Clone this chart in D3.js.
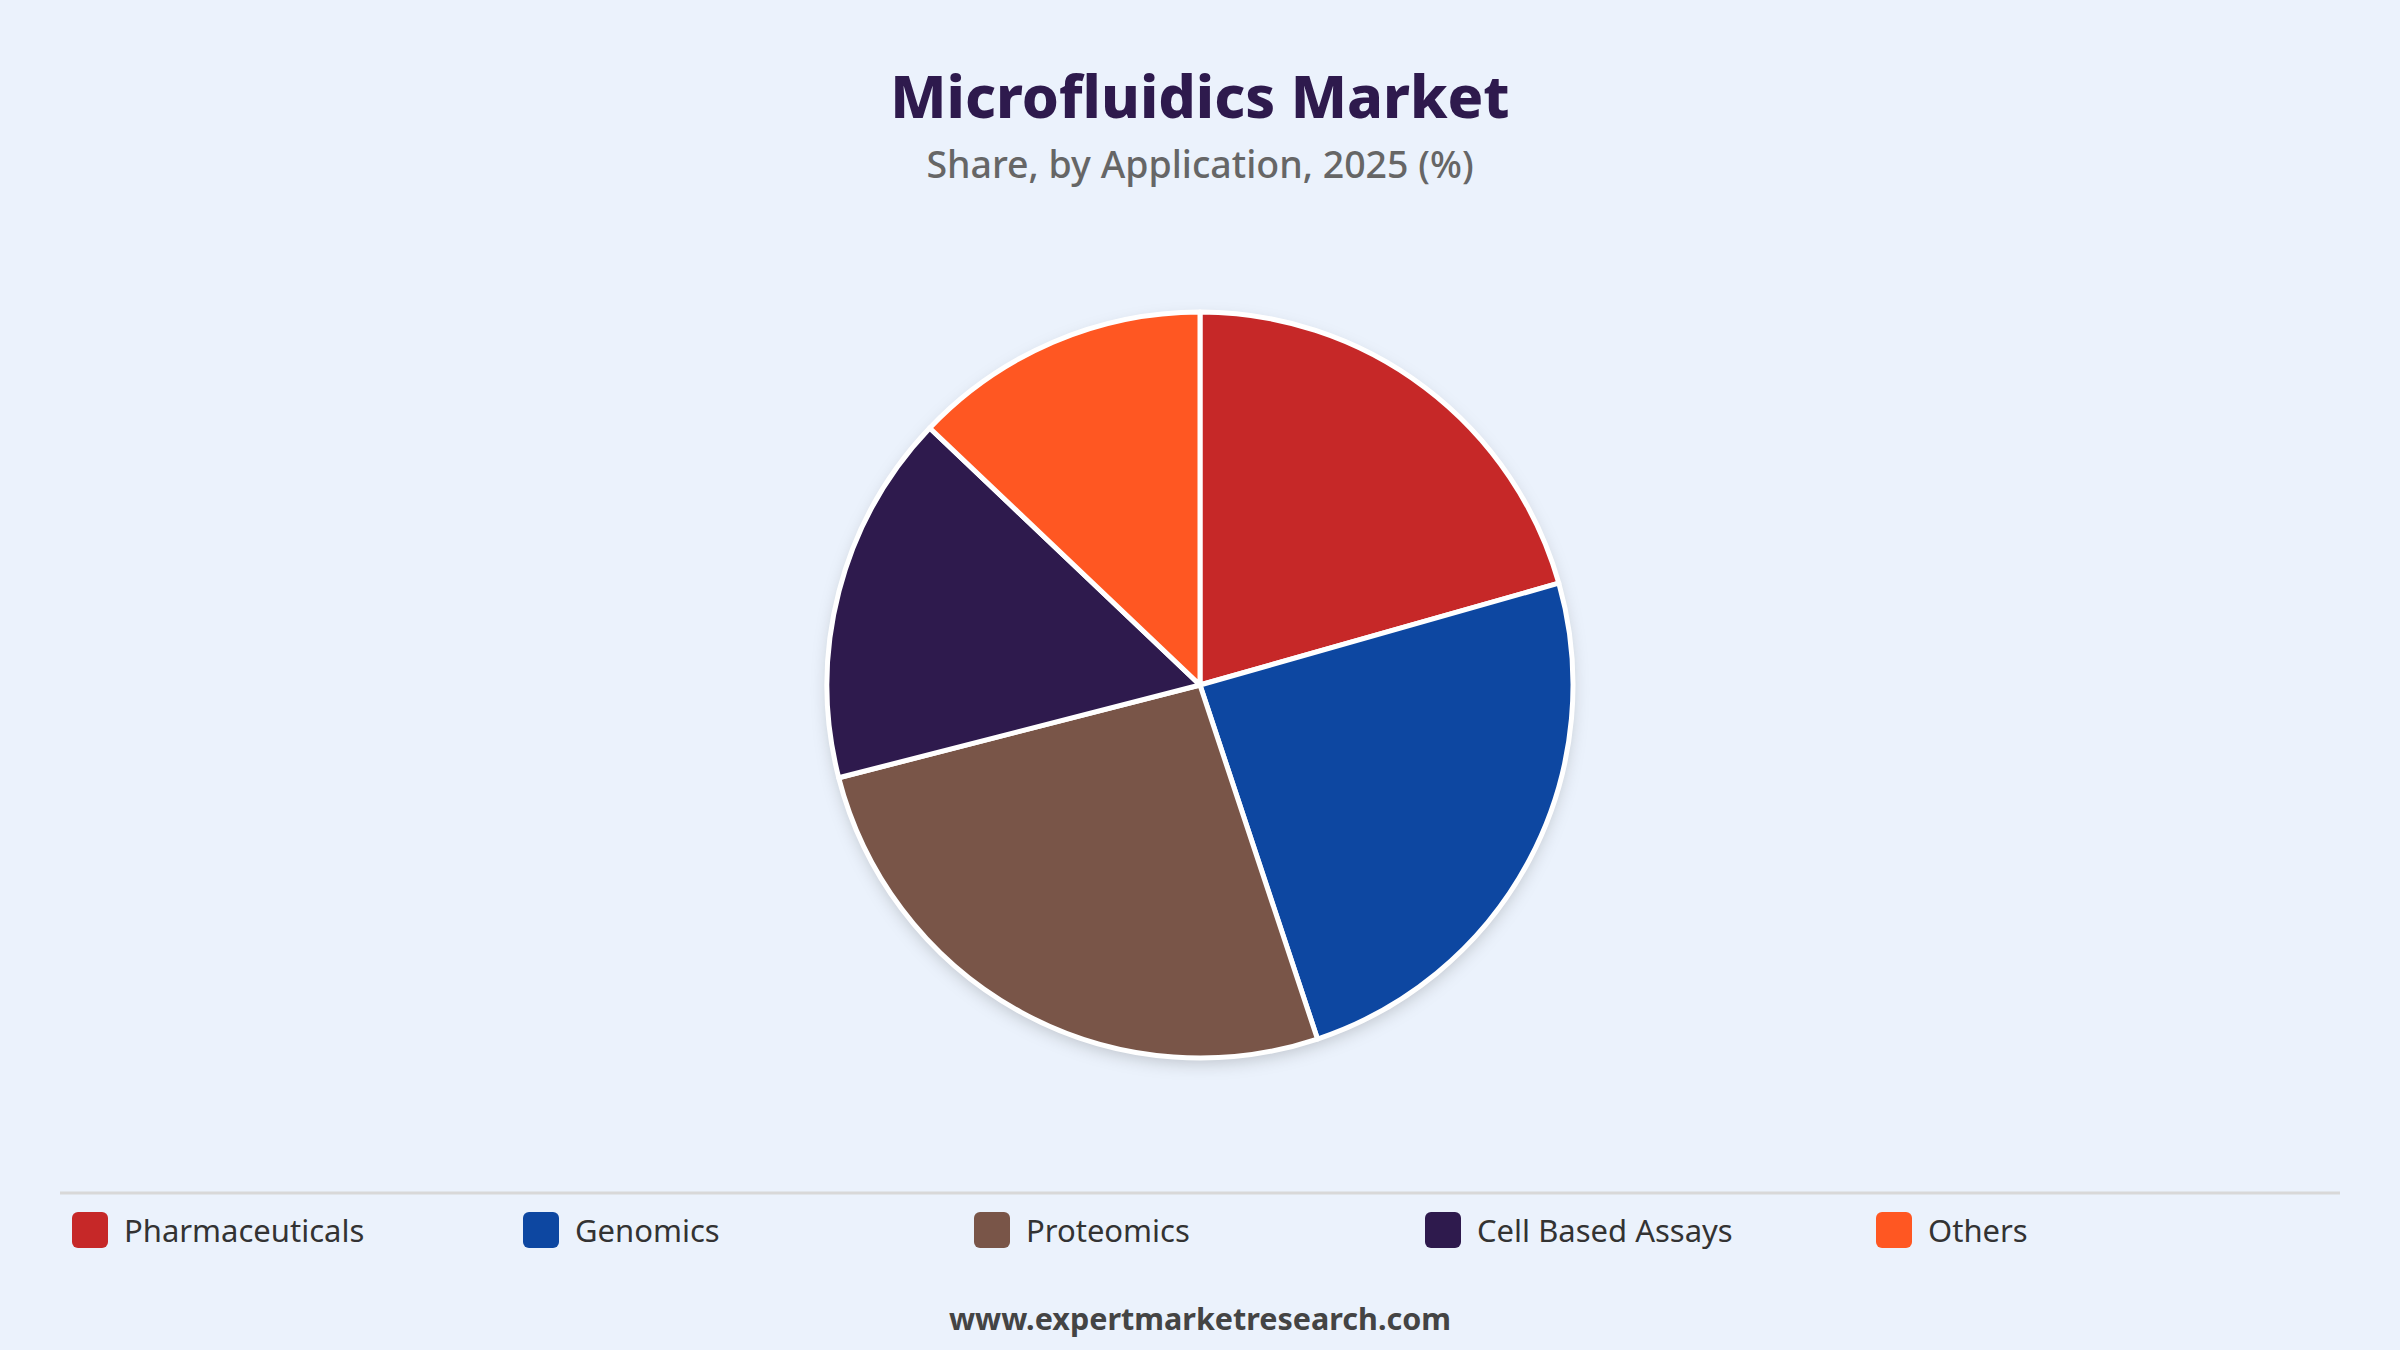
<!DOCTYPE html>
<html><head><meta charset="utf-8">
<script src="https://cdn.jsdelivr.net/npm/d3@7"></script>
<style>body{margin:0;background:#EBF2FC;}svg{display:block;font-family:"Noto Sans","Open Sans",sans-serif;}</style>
</head><body>
<script>
const categories = ["Pharmaceuticals","Genomics","Proteomics","Cell Based Assays","Others"];
const values = [20.6, 24.3, 26.1, 16.1, 12.9];
const colors = ["#C62828","#0D47A1","#795548","#2E1A4D","#FF5722"];

const W=2400,H=1350;
const svg=d3.select("body").append("svg").attr("width",W).attr("height",H);
svg.append("rect").attr("width",W).attr("height",H).attr("fill","#EBF2FC");
const defs=svg.append("defs");
const f=defs.append("filter").attr("id","sh").attr("x","-20%").attr("y","-20%").attr("width","140%").attr("height","140%");
f.append("feDropShadow").attr("dx",0).attr("dy",6).attr("stdDeviation",8).attr("flood-color","#000").attr("flood-opacity",0.18);

svg.append("text").attr("x",W/2).attr("y",118).attr("text-anchor","middle").attr("font-size",59).attr("font-weight",800).attr("fill","#2E1A4D").text("Microfluidics Market");
svg.append("text").attr("x",W/2).attr("y",178).attr("text-anchor","middle").attr("font-size",37.5).attr("font-weight",500).attr("fill","#666").text("Share, by Application, 2025 (%)");

const pie=d3.pie().sort(null).value(d=>d)(values);
const arc=d3.arc().innerRadius(0).outerRadius(373);
const g=svg.append("g").attr("transform","translate(1200,685)");
g.append("circle").attr("r",373).attr("fill","#fff").attr("filter","url(#sh)");
g.selectAll("path").data(pie).join("path").attr("d",arc).attr("fill",(d,i)=>colors[i]).attr("stroke","#fff").attr("stroke-width",5).attr("stroke-linejoin","round");

svg.append("line").attr("x1",60).attr("x2",2340).attr("y1",1193).attr("y2",1193).attr("stroke","#d8d8d8").attr("stroke-width",3);
const lg=svg.selectAll("g.l").data(categories).join("g").attr("transform",(d,i)=>`translate(${72+i*451},1212)`);
lg.append("rect").attr("width",36).attr("height",36).attr("rx",6).attr("fill",(d,i)=>colors[i]);
lg.append("text").attr("x",52).attr("y",30).attr("font-size",31).attr("fill","#333").text(d=>d);

svg.append("text").attr("x",W/2).attr("y",1330).attr("text-anchor","middle").attr("font-size",30.5).attr("font-weight",700).attr("fill","#444").text("www.expertmarketresearch.com");
</script>
</body></html>
